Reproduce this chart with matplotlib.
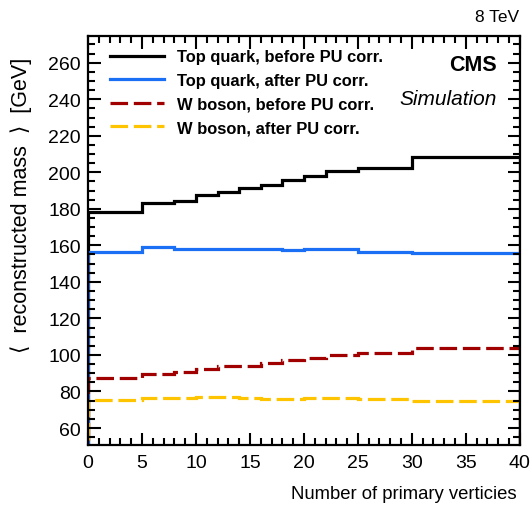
import matplotlib
matplotlib.use("Agg")
import matplotlib.pyplot as plt
from matplotlib.ticker import MultipleLocator

plt.rcParams["font.family"] = ["Liberation Sans", "DejaVu Sans"]

# bin edges in number of primary vertices
edges = [0, 5, 8, 10, 12, 14, 16, 18, 20, 22, 25, 30, 40]

top_before = [178.3, 183.0, 184.3, 187.6, 189.2, 191.3, 193.3, 196.0, 198.0, 200.5, 202.5, 208.5]
top_after = [156.6, 159.2, 157.9, 158.2, 158.2, 158.0, 157.9, 157.6, 157.8, 157.8, 156.6, 155.9]
w_before = [87.2, 89.5, 90.5, 92.3, 93.7, 94.1, 95.5, 97.2, 98.6, 99.7, 100.8, 103.7]
w_after = [75.5, 76.4, 76.4, 76.8, 76.8, 76.4, 75.9, 75.9, 76.3, 76.2, 75.7, 74.9]

labels = ["Top quark, before PU corr.", "Top quark, after PU corr.",
          "W boson, before PU corr.", "W boson, after PU corr."]
colors = ["black", "#1a6ff5", "#a00000", "#ffc400"]
styles = ["-", "-", (0, (5.5, 1.8)), (0, (5.5, 1.8))]

fig = plt.figure(figsize=(5.31, 5.10), dpi=100)
ax = fig.add_axes([0.1657, 0.1255, 0.8133, 0.8015])

for vals, lab, c, ls in zip([top_before, top_after, w_before, w_after],
                            labels, colors, styles):
    ax.stairs(vals, edges, baseline=0, color=c, lw=2.3, ls=ls, label=lab)

ax.set_xlim(0, 40)
ax.set_ylim(50.7, 274.5)
ax.xaxis.set_major_locator(MultipleLocator(5))
ax.xaxis.set_minor_locator(MultipleLocator(1))
ax.yaxis.set_major_locator(MultipleLocator(20))
ax.yaxis.set_minor_locator(MultipleLocator(5))
ax.tick_params(which="both", direction="in", top=True, right=True, width=1.5,
               labelsize=14)
ax.tick_params(which="major", length=9)
ax.tick_params(which="minor", length=5)
ax.tick_params(axis="x", pad=6.5)
ax.tick_params(axis="y", pad=5)
for s in ax.spines.values():
    s.set_linewidth(1.6)
ax.set_yticks(range(60, 261, 20))

leg = ax.legend(loc="upper left", bbox_to_anchor=(0.035, 0.984), frameon=False,
                prop={"weight": "bold", "size": 11.9}, handlelength=3.3,
                handletextpad=0.75, labelspacing=0.52, borderaxespad=0)

ax.text(0.947, 0.93, "CMS", transform=ax.transAxes, ha="right", va="center",
        fontsize=15.5, fontweight="bold")
ax.text(0.947, 0.847, "Simulation", transform=ax.transAxes, ha="right",
        va="center", fontsize=15, style="italic")

fig.text(519 / 531, 1 - 17 / 510, "8 TeV", ha="right", va="center", fontsize=12.5)
fig.text(517 / 531, 1 - 495 / 510, "Number of primary verticies", ha="right",
         va="center", fontsize=13.3)
fig.text(21 / 531, 1 - 205 / 510, "\u27e8  reconstructed mass  \u27e9  [GeV]",
         rotation=90, ha="center", va="center", fontsize=15.5)

fig.savefig("out.png", dpi=100)
